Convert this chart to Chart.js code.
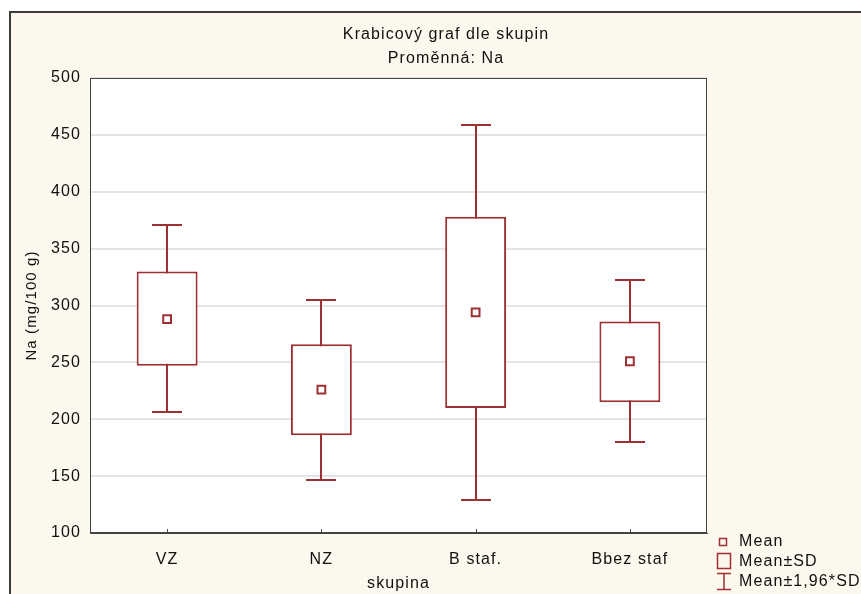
<!DOCTYPE html>
<html>
<head>
<meta charset="utf-8">
<script src="https://cdn.jsdelivr.net/npm/chart.js@4.4.1/dist/chart.umd.min.js"></script>
<style>
  html, body { margin: 0; padding: 0; background: #fff; overflow: hidden; }
  #wrap { position: relative; width: 861px; height: 594px; }
  #frame { position: absolute; left: 9px; top: 11px; width: 900px; height: 700px;
           border: 2px solid #3c3c3c; background: #fdf8ee; }
  #chart { position: absolute; left: 0; top: 0; }
</style>
</head>
<body>
<div id="wrap">
  <div id="frame"></div>
  <canvas id="chart" width="861" height="594"></canvas>
</div>
<script>
// Na (mg/100 g) by group: mean, mean±SD, mean±1.96*SD
const groups = ['VZ', 'NZ', 'B staf.', 'Bbez staf'];
const means  = [288, 226, 294, 251];
const sdLow  = [247, 186, 210, 215];
const sdHigh = [330, 266, 378, 286];
const ciLow  = [206, 147, 129, 180];
const ciHigh = [371, 305, 459, 322];

const red = '#9e2f33';
const ink = '#111';
Chart.defaults.font.family = "'Liberation Sans', Arial, sans-serif";

// the original render is a bit wide, so space the letters out a little
const spacing = '1.1px';

const plotDecor = {
  id: 'plotDecor',
  beforeLayout(chart) {
    chart.ctx.letterSpacing = spacing;
  },
  beforeDraw(chart) {
    const { ctx, chartArea: a } = chart;
    ctx.letterSpacing = spacing;
    ctx.save();
    ctx.fillStyle = '#fff';
    ctx.fillRect(a.left, a.top, a.right - a.left, a.bottom - a.top);
    ctx.restore();
  },
  beforeDatasetsDraw(chart) {
    // whiskers go under the boxes
    const { ctx, scales: { x, y } } = chart;
    ctx.save();
    ctx.strokeStyle = red;
    ctx.lineWidth = 2;
    groups.forEach((g, i) => {
      const px = Math.round(x.getPixelForValue(i));
      ctx.beginPath();
      ctx.moveTo(px, y.getPixelForValue(ciLow[i]));
      ctx.lineTo(px, y.getPixelForValue(ciHigh[i]));
      [ciLow[i], ciHigh[i]].forEach(v => {
        const py = Math.round(y.getPixelForValue(v));
        ctx.moveTo(px - 15, py);
        ctx.lineTo(px + 15, py);
      });
      ctx.stroke();
    });
    ctx.restore();
  },
  afterDatasetsDraw(chart) {
    const { ctx, chartArea: a, scales: { x } } = chart;
    ctx.save();
    // plot frame and inward ticks on the category axis
    ctx.strokeStyle = '#444';
    ctx.lineWidth = 1;
    ctx.strokeRect(a.left + 0.5, a.top + 0.5, a.right - a.left - 1, a.bottom - a.top - 1);
    ctx.beginPath();
    groups.forEach((g, i) => {
      const px = Math.round(x.getPixelForValue(i)) + 0.5;
      ctx.moveTo(px, a.bottom);
      ctx.lineTo(px, a.bottom - 4);
    });
    ctx.stroke();
    ctx.restore();
  },
  afterDraw(chart) {
    const { ctx } = chart;
    ctx.save();
    ctx.letterSpacing = spacing;
    ctx.fillStyle = ink;
    ctx.font = "16px 'Liberation Sans', Arial, sans-serif";
    ctx.textAlign = 'center';
    ctx.textBaseline = 'middle';
    ctx.fillText('Krabicový graf dle skupin', 446, 35);
    ctx.fillText('Proměnná: Na', 446, 59);

    // legend
    ctx.textAlign = 'left';
    ctx.fillText('Mean', 739, 542);
    ctx.fillText('Mean±SD', 739, 562);
    ctx.fillText('Mean±1,96*SD', 739, 582);
    ctx.strokeStyle = red;
    ctx.lineWidth = 1.5;
    ctx.strokeRect(719.5, 538.5, 7, 7);
    ctx.strokeRect(717.5, 553.5, 13, 15);
    ctx.beginPath();
    ctx.moveTo(724, 573); ctx.lineTo(724, 590);
    ctx.moveTo(717, 573.5); ctx.lineTo(731, 573.5);
    ctx.moveTo(717, 589.5); ctx.lineTo(731, 589.5);
    ctx.stroke();
    ctx.restore();
  }
};

new Chart(document.getElementById('chart'), {
  type: 'bar',
  data: {
    labels: groups,
    datasets: [
      {
        label: 'Mean±SD',
        data: groups.map((g, i) => [sdLow[i], sdHigh[i]]),
        backgroundColor: '#fff',
        borderColor: red,
        borderWidth: 2,
        borderSkipped: false,
        barPercentage: 0.395,
        categoryPercentage: 1,
        order: 2
      },
      {
        type: 'line',
        label: 'Mean',
        data: means,
        showLine: false,
        pointStyle: 'rect',
        pointRadius: 5.5,
        pointBackgroundColor: '#fff',
        pointBorderColor: red,
        pointBorderWidth: 2,
        order: 1
      }
    ]
  },
  options: {
    responsive: false,
    animation: false,
    layout: { padding: { left: 10, right: 154, top: 78, bottom: 0 } },
    plugins: {
      legend: { display: false },
      tooltip: { enabled: false }
    },
    scales: {
      x: {
        grid: { display: false },
        border: { color: '#444', width: 1 },
        ticks: { color: ink, font: { size: 16 }, padding: 9 },
        title: { display: true, text: 'skupina', color: ink, font: { size: 16 }, padding: { top: 0, bottom: 1 } },
        afterFit: s => { s.height = 61; }
      },
      y: {
        min: 100,
        max: 500,
        ticks: { stepSize: 50, color: ink, font: { size: 16 }, padding: 9 },
        grid: { color: '#e4e4e4', lineWidth: 2, drawTicks: false },
        border: { color: '#444', width: 1 },
        title: { display: true, text: 'Na (mg/100 g)', color: ink, font: { size: 15 }, padding: { top: 13, bottom: 0 } },
        afterFit: s => { s.width = 80; }
      }
    }
  },
  plugins: [plotDecor]
});
</script>
</body>
</html>
